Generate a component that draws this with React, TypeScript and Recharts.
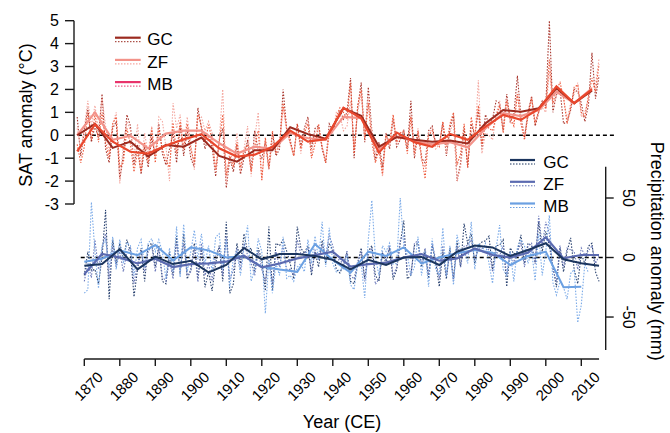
import React from 'react';
import { LineChart, Line, XAxis, YAxis, ReferenceLine, Legend } from 'recharts';

const FONT = '"Liberation Sans", Arial, Helvetica, sans-serif';

// ---------- data ----------
const startT = 1868; // SAT annual series start
const startP = 1870; // precipitation annual series start

const gcT = [0.8, -0.9, 0.2,
  1.2, -0.3, 0.4, -0.1, 1.8, -0.6, -1.2, 0.3, 0.6, -1.9, -0.9, 0.9, 0.4, -1.3, -0.4,
  -1.7, -0.5, -1.4, -0.1, -0.9, 0.5, -0.8, -1.3, -0.6, 0.1, -1.2, 0.4, -0.9, 0.2, -1.0,
  -1.4, 1.2, 0.3, -0.6, 0.0, -0.5, -1.8, -0.2, 0.3, -2.3, -1.0, -1.6, -0.4, -1.7, -1.0,
  -0.2, -1.5, 0.2, -0.7, -1.0, -0.3, -1.5, 0.1, -0.9, -0.6, 2.0, 0.3, -0.2, -0.9, 0.5,
  -0.5, 0.3, 0.8, -0.6, 0.3, 0.4, -0.6, -1.2, 0.5, 0.2, 0.6, 1.1, 0.7, 1.0, 2.5,
  -1.0, 1.2, 2.3, -0.3, 2.1, 0.2, -1.1, -0.3, -1.4, 0.1, -0.6, 0.7, -0.5, -0.2, 0.2,
  -0.6, 1.5, -1.0, 0.1, -1.0, -1.2, 0.2, 0.4, -0.4, -0.4, 0.5, -0.9, 0.3, 0.9, -2.0,
  -1.2, 0.3, -1.4, 0.5, 0.0, 1.1, -0.6, 0.9, 0.5, 0.7, 1.5, 1.4, 0.2, 1.8, 0.6,
  0.9, 2.6, 0.8, -0.1, 1.0, 1.7, 0.4, 1.0, 1.5, 1.3, 5.0, 1.0, 1.8, 2.0, 0.5,
  0.6, 1.1, 2.0, 1.9, 1.4, 0.6, 1.3, 3.6, 1.6, 2.6];

const zfT = [0.3, -0.6, 0.3,
  1.5, 0.4, 1.3, 0.2, 1.6, 0.4, -0.8, 0.5, 1.0, -2.1, -0.4, 0.6, 0.2, -1.0, 0.5,
  -1.4, 0.1, -0.9, 0.4, -1.0, 0.8, 0.6, -0.5, -2.0, 1.4, 0.3, 0.9, -0.6, 0.8, -0.4,
  -1.5, 0.9, 0.8, 0.2, 0.6, 0.1, -1.6, -0.2, 2.0, -2.1, -0.6, -1.3, 0.1, -1.6, -0.6,
  0.4, -1.8, -0.1, 1.0, -2.0, -0.2, -1.5, -0.3, -0.6, -0.4, 1.2, 0.2, -0.4, -0.9, 0.4,
  -0.8, 0.2, 0.7, -0.9, 0.15, 0.3, -0.5, -1.1, 0.2, 0.1, 1.0, 0.9, 0.2, 0.4, 1.5,
  -0.6, 1.0, 1.8, -0.1, 1.65, 0.0, -0.8, -0.5, -1.8, 0.1, -0.5, 0.8, -0.4, 0.0, -0.15,
  -0.4, 0.9, -0.9, 0.3, -1.15, -1.4, 0.1, 0.3, -0.6, -0.4, 0.6, -0.8, 0.1, 0.6, -2.0,
  -1.4, 0.0, -1.2, 0.2, -0.2, 2.4, -0.8, 0.1, 0.0, -0.2, 0.9, 1.5, 0.3, 1.6, 0.5,
  0.6, 1.9, 0.7, 0.0, 1.0, 1.7, 0.6, 1.0, 1.2, 1.0, 2.8, 1.3, 1.7, 2.1, 1.6,
  0.7, 1.4, 1.8, 2.3, 0.8, 1.0, 1.6, 2.1, 2.2, 3.35];

const mbT = [-0.4, -1.2, -0.5,
  1.0, -0.2, 0.9, -0.3, 1.0, -0.3, -1.0, 0.5, 0.8, -1.4, -1.2, 0.3, -0.4, -1.6, -0.7,
  -1.6, -0.3, -1.2, 0.3, -1.2, 0.3, -0.6, -1.1, -1.4, 0.55, -0.8, 0.6, -0.6, 0.5, -0.6,
  -1.2, 0.9, 0.4, -0.3, 0.45, -0.2, -1.5, -0.3, 0.9, -1.75, -0.9, -1.4, -0.3, -1.4, -0.65,
  -0.4, -1.6, -0.5, 0.2, -1.95, -0.1, -1.4, 0.2, -0.8, -0.4, 1.4, 0.3, -0.3, -0.9, 0.5,
  -0.6, 0.1, 0.5, -1.0, -0.4, 0.5, -0.5, -1.2, 0.1, 0.25, 0.8, 1.2, 1.0, 0.7, 2.3,
  -0.8, 1.3, 2.0, -0.2, 1.4, -0.3, -1.2, -0.6, -1.7, 0.0, -0.3, 0.9, -0.3, 0.1, 0.2,
  -0.8, 0.8, -0.8, 0.2, -0.9, -1.9, 0.0, 0.2, -0.3, -0.5, 0.6, -0.5, 0.5, 1.0, -1.3,
  -0.8, 0.5, -1.4, 0.8, -0.1, 1.3, -0.4, 0.5, 0.3, 0.2, 0.8, 1.3, 0.1, 1.5, 0.75,
  0.4, 1.8, 0.5, -0.2, 0.85, 1.6, 0.5, 1.1, 1.4, 1.15, 3.3, 1.4, 2.0, 2.3, 1.65,
  0.5, 1.2, 2.1, 2.2, 1.0, 0.8, 1.7, 2.5, 1.9, 3.1];

// 5-year means, SAT (1868, 1873, ... 2013)
const gcTs = [0, 0.5, -0.55, -0.28, -0.93, -0.42, -0.5, -0.1, -0.9, -1.15, -0.65, -0.65, 0.35, 0.05, -0.15, 1.18, 0.85, -0.5, -0.08, -0.2, -0.28, -0.23, -0.36, 0.52, 1.1, 1.03, 1.18, 2.05, 1.4, 1.95];
const zfTs = [0, 1.0, -0.2, -0.02, -0.57, 0.07, 0.2, 0.2, -0.35, -0.8, -0.5, -0.6, 0.1, -0.13, -0.2, 0.8, 0.75, -0.6, -0.05, -0.25, -0.4, -0.3, -0.52, 0.3, 0.96, 0.84, 1.1, 1.9, 1.4, 2.05];
const mbTs = [-0.7, 0.48, -0.28, -0.72, -0.8, -0.45, -0.18, 0.05, -0.57, -0.93, -0.85, -0.5, 0.2, -0.28, -0.17, 1.2, 0.74, -0.76, 0.12, -0.3, -0.5, 0.06, -0.2, 0.38, 0.89, 0.67, 1.15, 2.13, 1.4, 2.0];

// annual precipitation anomalies (mm), from 1870
const gcP = [-15, 5, -11,
  -10, -22, 0, 40, -35, 15, -5, 12, -2, 15, 5, -33, -10, 8, -20,
  10, 12, -8, 10, -20, -22, 5, -15, 18, -14, 20, -18, -10, 12, -18,
  8, -25, -12, -28, -5, 10, -20, 30, -30, -22, 12, -5, 20, 5, 8,
  -11.5, 8, -2, -28, 26, -28, 12, 10, 15, 5.5, -5, -18, 26, 8, 3.5,
  10, -15, 5, -8, 14.5, -5, 12, 6, -10, -13, -6, 4, -20, -22, -6,
  8, -18, 5, 10, -15, -20, 4, -5, 8, -18.5, -10, 12, 31, -18, -15,
  10, 12, -8, 6, -17.5, 10, -4, -24.5, 5, -18, 8, -18, 14, -8, 28.5,
  12, 20, -5, 10, 13, 14, 18, -10, 10, 10.5, 15, -24.5, 8, 3, 5,
  19, -5, 12, 10, -4.5, 30, 5, 22, 10, -7, -25, 8, -12, 5, 16.5,
  -10, -22, 3, -5, 9.5, 12, -12, -20];

const zfP = [-20, -5, -17,
  15, -10, 8, 20, -18, 10, -8, 5, -12, 5, 8, -22, -5, 6, -12,
  5, 10, -12, 8, -16, -20, -2, -18, 12, -12, 12, -15, -12, 8, -20.5,
  12, -15, -5, -20, 3, 8, -15, 18, -18, -10.5, 8, -10, 12, 2, -4.5,
  -15, 5, -10, -20, -1.5, -22, 5, -8, 10, -10, -10, -15, 15, 3, 3.5,
  8, -12, 6, -2, 10, 2, 18, 10, -5, -0.5, -8, 6, -15, -18, -3.5,
  5, -20, 2, 8, -22.5, -18, 5, -3, 10, -15.5, -8, 15, 18, -10, -15,
  12, 14, -5, 8, -14.5, 12, -2, -18, 10, -15.5, 5, -20, 10, -8, 9.5,
  10, 15, -2, 8, 7.5, 10, 6, -12, 5, 1.5, 10, -15, 5, -5, 5,
  12, -8, 10, 12, -5.5, 35, 10, 30, 20, -10, -20, 10, -8, 8, 6.5,
  5, -10, 8, 2, 5.5, 10, -5, 1.3];

const mbP = [-30, -27, 46.5,
  5, -26, 10, 15, -9, 17.5, -10, 15, -5, 12.5, 10, -15, 8, 15, -8,
  12, 16, 5, 15, 4.5, -18, 8, -12, 26, -16.5, 28, -12, 5, 23, -1.5,
  20, -5, 10, -12, 17, 20, -10, 15, -25, 0, 5, -15, 8, 27, -20,
  -10, 16, 5, -47, -2.5, -30, -5, -15, 17.5, -17.5, -15, -20, -8, -5, -12,
  15, -5, 18, -1.5, 30, -8, 25, -5, -12, -10, -10, 2, -23, -27, -5.5,
  -5, -34, 15, 48, 0.5, -15, 10, 5, 12, -5.5, -5, 50, 10, 2, -14.5,
  -8, 17.5, -15, 5, -24.5, 16, -10, -15, 25, -16, 10, -23, 19, 5, 6.5,
  -5, 30, -10, 12, 4.5, 12, -5, -21.7, 8, 27.2, -10, -15, 5, -20, 8.5,
  15, 10, -5, 6, -19.5, 20, -15, 5, 35.5, -21, -31.5, -20, -25, -35, -13.5,
  -10, -54.7, -40, -5, -12.8];

// 5-year means, precipitation (1870, 1875, ... 2015)
const gcPs = [-7, -5.5, 7, -10, 0.7, -5.5, -2.7, -12.5, -6.3, 8, -1.5, 2.9, 2.9, 1.3, -2, -10, -2, -6.3, 0, 0.5, -6.3, 4.9, 10, 8.5, 1.3, 6.3, 12, -1.5, -4.9, -7];
const zfPs = [-14, 3, 0, -5, -1, -8, -5.5, -5, -3.5, 1.5, -8.3, -5, -0.7, 2, 4.9, -7.7, -5.5, -4.3, 0, 2.9, -2.7, -0.7, 7.7, 2.1, 0, 4.1, 17, -0.7, 2.1, 2.1];
const mbPs = [-3.5, -1, 6, 2, 10.5, -2.5, 8.5, 6, 0, 1, -7.7, -10, -12, 11.3, -2, -12.7, 4.9, 1.3, 8.5, -5, 0, 3.5, 6.3, 4.1, -6.3, 1.3, 4.9, -25, -24.5];

const satTicks = [-3, -2, -1, 0, 1, 2, 3, 4, 5];
const precTicks = [-50, 0, 50];
const yearTicks = [1870, 1880, 1890, 1900, 1910, 1920, 1930, 1940, 1950, 1960, 1970, 1980, 1990, 2000, 2010];

// ---------- tables ----------
const annual = gcT.map((v, i) => {
  const year = startT + i;
  const j = year - startP;
  return {
    year,
    gcT: v,
    zfT: zfT[i],
    mbT: mbT[i],
    gcP: j >= 0 && j < gcP.length ? gcP[j] : null,
    zfP: j >= 0 && j < zfP.length ? zfP[j] : null,
    mbP: j >= 0 && j < mbP.length ? mbP[j] : null,
  };
});
const smoothT = gcTs.map((v, i) => ({ year: 1868 + 5 * i, gc: v, zf: zfTs[i], mb: mbTs[i] }));
const smoothP = gcPs.map((v, i) => ({ year: 1870 + 5 * i, gc: v, zf: zfPs[i], mb: i < mbPs.length ? mbPs[i] : null }));

// ---------- styling ----------
const RED = { gc: '#9b2a1f', zf: '#f3938a', mb: '#e9472d' };
const REDDOT = { gc: '#a8352c', zf: '#f4a8a0', mb: '#ee5a3c' };
const REDLEG = { gc: '#9b2a1f', zf: '#f3938a', mb: '#e8336b' };
const BLUE = { gc: '#1b355e', zf: '#5b6ab0', mb: '#6ba0e2' };
const BLUEDOT = { gc: '#28416f', zf: '#6c79ba', mb: '#7cabe8' };
const AX = '#1a1a1a';
const DOT = '1.5 1.5';

const LegendBox = ({ items, x0, x1, tx }: any) => (
  <svg width={670} height={433} style={{ position: 'absolute', left: 0, top: 0, overflow: 'visible' }}>
    {items.map((it: any) => (
      <g key={it.name}>
        <line x1={x0} x2={x1} y1={it.y} y2={it.y} stroke={it.c} strokeWidth={2.2} />
        <line x1={x0} x2={x1} y1={it.y + 4} y2={it.y + 4} stroke={it.c} strokeWidth={1} strokeDasharray="1.5 1.5" />
        <text x={tx} y={it.ty} dominantBaseline="central" fontSize={17} fontFamily={FONT} fill="#000">{it.name}</text>
      </g>
    ))}
  </svg>
);

const redItems = [
  { name: 'GC', c: REDLEG.gc, y: 37.7, ty: 39.8 },
  { name: 'ZF', c: REDLEG.zf, y: 59.9, ty: 62.2 },
  { name: 'MB', c: REDLEG.mb, y: 82.1, ty: 84.6 },
];
const blueItems = [
  { name: 'GC', c: BLUE.gc, y: 160, ty: 162.5 },
  { name: 'ZF', c: BLUE.zf, y: 181.8, ty: 184 },
  { name: 'MB', c: BLUE.mb, y: 203.5, ty: 206.2 },
];

const PrecipTick = (props: any) => {
  const { x, y, payload } = props;
  return (
    <text x={x} y={y} textAnchor="middle" dominantBaseline="central" transform={`rotate(90 ${x} ${y})`}
      fontSize={16} fontFamily={FONT} fill="#000">{payload.value}</text>
  );
};

const YearTick = (props: any) => {
  const { x, y, payload } = props;
  const cx = x + 4;
  const cy = y + 18;
  return (
    <text x={cx} y={cy} textAnchor="middle" dominantBaseline="central" transform={`rotate(-45 ${cx} ${cy})`}
      fontSize={15} fontFamily={FONT} fill="#000">{payload.value}</text>
  );
};

const layer: React.CSSProperties = { position: 'absolute', left: 0, top: 0 };

export default function App() {
  return (
    <div style={{ position: 'absolute', left: 0, top: 0, width: 670, height: 433, background: '#fff', fontFamily: FONT }}>
      {/* SAT panel */}
      <div style={layer}>
        <LineChart width={670} height={433} data={annual} margin={{ top: 20.7, right: 55, bottom: 229, left: 44 }}>
          <XAxis dataKey="year" type="number" domain={[1867.1, 2019.49]} allowDataOverflow hide />
          <YAxis type="number" domain={[-3, 5]} ticks={satTicks} allowDataOverflow width={30} interval={0}
            tickSize={9} tickMargin={6}
            tick={{ fontSize: 16, fill: '#000', fontFamily: FONT }}
            axisLine={{ stroke: AX, strokeWidth: 1.4 }} tickLine={{ stroke: AX, strokeWidth: 1.4 }}
            label={() => (
              <text x={25.5} y={115} textAnchor="middle" dominantBaseline="central" transform="rotate(-90 25.5 115)"
                fontSize={18} fontFamily={FONT} fill="#000">SAT anomaly (°C)</text>
            )} />
          <ReferenceLine segment={[{ x: 1868.2, y: 0 }, { x: 2019.4, y: 0 }]} stroke="#000" strokeWidth={1.3} strokeDasharray="4 3" />
          <Line dataKey="gcT" stroke={REDDOT.gc} strokeWidth={1.1} strokeDasharray={DOT} dot={false} isAnimationActive={false} />
          <Line dataKey="zfT" stroke={REDDOT.zf} strokeWidth={1.1} strokeDasharray={DOT} dot={false} isAnimationActive={false} />
          <Line dataKey="mbT" stroke={REDDOT.mb} strokeWidth={1.1} strokeDasharray={DOT} dot={false} isAnimationActive={false} />
          <Line data={smoothT} dataKey="zf" stroke={RED.zf} strokeWidth={2.2} dot={false} isAnimationActive={false} />
          <Line data={smoothT} dataKey="gc" stroke={RED.gc} strokeWidth={2} dot={false} isAnimationActive={false} />
          <Line data={smoothT} dataKey="mb" stroke={RED.mb} strokeWidth={2.2} dot={false} isAnimationActive={false} />
          <Legend layout="vertical" align="center" verticalAlign="middle"
            wrapperStyle={{ left: 0, top: 0, width: 670, height: 433, pointerEvents: 'none' }}
            content={() => <LegendBox items={redItems} x0={115} x1={140.7} tx={147.3} />} />
        </LineChart>
      </div>

      {/* Precipitation panel */}
      <div style={layer}>
        <LineChart width={670} height={433} data={annual} margin={{ top: 166.7, right: 24.3, bottom: 83, left: 74 }}>
          <XAxis dataKey="year" type="number" domain={[1867.1, 2016.88]} allowDataOverflow hide />
          <YAxis orientation="right" type="number" domain={[-77.7, 76.3]} ticks={precTicks} allowDataOverflow width={40} interval={0}
            tickSize={8} tickMargin={15} tick={<PrecipTick />}
            axisLine={{ stroke: AX, strokeWidth: 1.4 }} tickLine={{ stroke: AX, strokeWidth: 1.4 }}
            label={() => (
              <text x={657} y={141.7} textAnchor="start" dominantBaseline="central" transform="rotate(90 657 141.7)"
                fontSize={18} fontFamily={FONT} fill="#000">Precipitation anomaly (mm)</text>
            )} />
          <ReferenceLine segment={[{ x: 1869, y: 0 }, { x: 2016.8, y: 0 }]} stroke="#000" strokeWidth={1.3} strokeDasharray="4 3" />
          <Line dataKey="gcP" stroke={BLUEDOT.gc} strokeWidth={1.1} strokeDasharray={DOT} dot={false} isAnimationActive={false} />
          <Line dataKey="zfP" stroke={BLUEDOT.zf} strokeWidth={1.1} strokeDasharray={DOT} dot={false} isAnimationActive={false} />
          <Line dataKey="mbP" stroke={BLUEDOT.mb} strokeWidth={1.1} strokeDasharray={DOT} dot={false} isAnimationActive={false} />
          <Line data={smoothP} dataKey="mb" stroke={BLUE.mb} strokeWidth={2} dot={false} isAnimationActive={false} />
          <Line data={smoothP} dataKey="zf" stroke={BLUE.zf} strokeWidth={2.2} dot={false} isAnimationActive={false} />
          <Line data={smoothP} dataKey="gc" stroke={BLUE.gc} strokeWidth={2} dot={false} isAnimationActive={false} />
          <Legend layout="vertical" align="center" verticalAlign="middle"
            wrapperStyle={{ left: 0, top: 0, width: 670, height: 433, pointerEvents: 'none' }}
            content={() => <LegendBox items={blueItems} x0={510} x1={535} tx={543.3} />} />
        </LineChart>
      </div>

      {/* Year axis */}
      <div style={layer}>
        <LineChart width={670} height={433} data={annual} margin={{ top: 300, right: 70.95, bottom: 0, left: 84.3 }}>
          <XAxis dataKey="year" type="number" domain={[1870, 2015]} ticks={yearTicks} allowDataOverflow height={74}
            tickSize={7} tickMargin={2} tick={<YearTick />} interval={0}
            axisLine={{ stroke: AX, strokeWidth: 1.4 }} tickLine={{ stroke: AX, strokeWidth: 1.4 }}
            label={() => (
              <text x={342} y={427.5} textAnchor="middle" fontSize={18} fontFamily={FONT} fill="#000">Year (CE)</text>
            )} />
          <YAxis hide domain={[0, 1]} />
        </LineChart>
      </div>
    </div>
  );
}
